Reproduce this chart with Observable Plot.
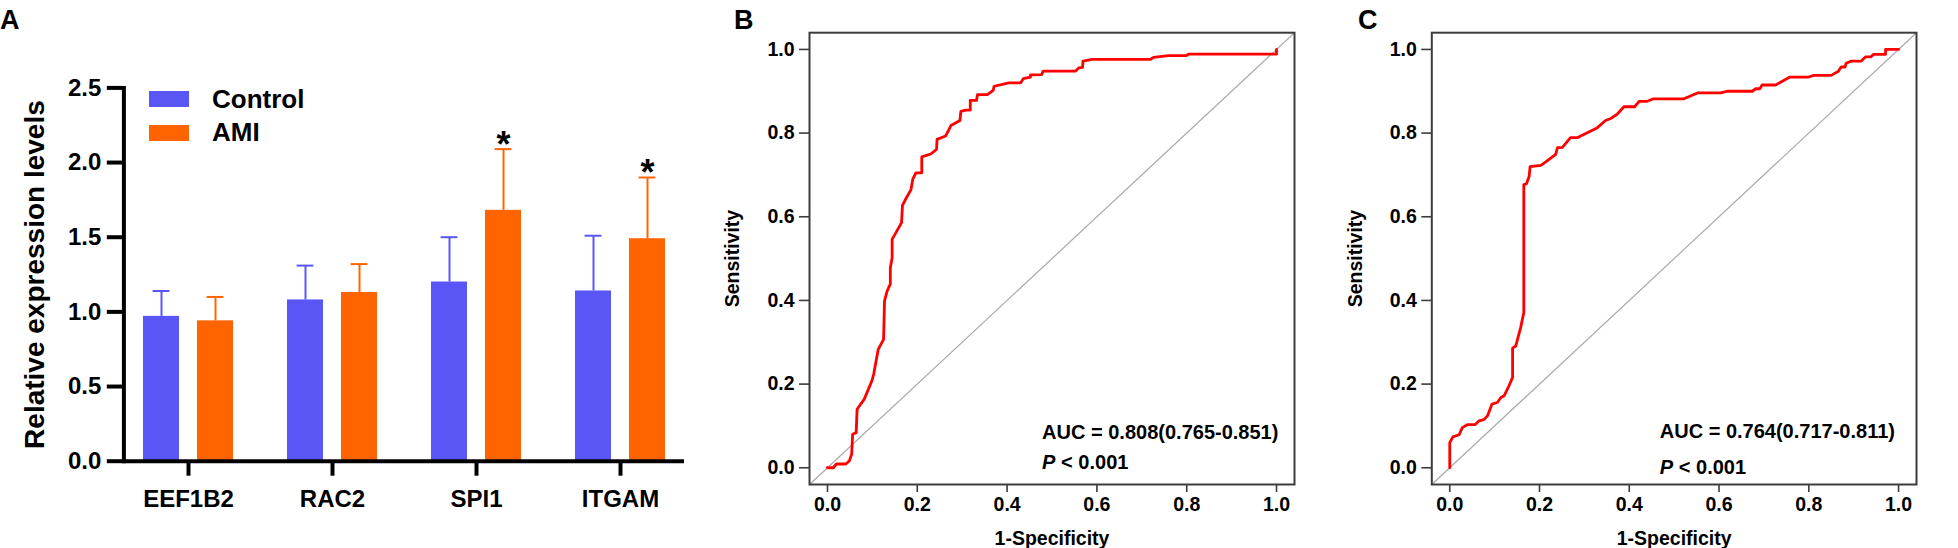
<!DOCTYPE html>
<html>
<head>
<meta charset="utf-8">
<script src="https://cdn.jsdelivr.net/npm/d3@7"></script>
<script src="https://cdn.jsdelivr.net/npm/@observablehq/plot@0.6"></script>
<style>
  body { margin: 0; background: #fff; }
  #fig { position: relative; width: 1958px; height: 548px; background: #fff; overflow: hidden;
         font-family: "Liberation Sans", Arial, Helvetica, sans-serif; }
  .panel { position: absolute; top: 0; }
  .panel svg { display: block; max-width: none !important; }
  .letter { position: absolute; font-weight: bold; font-size: 27px; line-height: 1; color: #000; }
  #legendA { position: absolute; left: 149px; top: 83px; }
  #legendA > div { font-family: "Liberation Sans", Arial, sans-serif !important; font-size: 26px !important;
                   font-weight: bold !important; color: #000 !important; margin: 0 !important; }
  #legendA div div { line-height: 32.4px; }
  #legendA svg { margin-right: 23px !important; }
</style>
</head>
<body>
<div id="fig"></div>
<script>
// ---------- Panel A data ----------
const genes = ["EEF1B2", "RAC2", "SPI1", "ITGAM"];
const groups = ["Control", "AMI"];
const controlMean = [0.97, 1.08, 1.20, 1.14];
const controlUpper = [1.14, 1.31, 1.50, 1.51];
const amiMean = [0.94, 1.13, 1.68, 1.49];
const amiUpper = [1.10, 1.32, 2.09, 1.90];
const starred = ["SPI1", "ITGAM"];
const yTicksA = [0, 0.5, 1.0, 1.5, 2.0, 2.5];

// ---------- Panel B ROC ----------
const rocBfpr = [0, 0.013, 0.020, 0.041, 0.049, 0.054, 0.056, 0.064, 0.066, 0.082,
  0.099, 0.103, 0.113, 0.125, 0.127, 0.133, 0.140, 0.140, 0.144, 0.144,
  0.165, 0.167, 0.173, 0.186, 0.190, 0.197, 0.210, 0.210, 0.230, 0.243,
  0.244, 0.263, 0.275, 0.295, 0.297, 0.308, 0.318, 0.318, 0.332, 0.334,
  0.356, 0.369, 0.371, 0.404, 0.430, 0.436, 0.452, 0.452, 0.477, 0.480,
  0.552, 0.560, 0.568, 0.569, 0.589, 0.719, 0.726, 0.759, 0.799, 0.804,
  1.0, 1.0];
const rocBtpr = [0, 0, 0.009, 0.009, 0.017, 0.033, 0.080, 0.084, 0.140, 0.164,
  0.208, 0.224, 0.283, 0.307, 0.399, 0.423, 0.439, 0.478, 0.502, 0.546,
  0.586, 0.627, 0.640, 0.665, 0.690, 0.705, 0.705, 0.743, 0.750, 0.761,
  0.785, 0.793, 0.818, 0.830, 0.852, 0.855, 0.855, 0.878, 0.878, 0.892,
  0.892, 0.902, 0.912, 0.920, 0.920, 0.930, 0.934, 0.939, 0.940, 0.948,
  0.948, 0.956, 0.957, 0.972, 0.976, 0.976, 0.981, 0.985, 0.985, 0.989,
  0.989, 1.0];
const aucB = "AUC = 0.808(0.765-0.851)";

// ---------- Panel C ROC ----------
const rocCfpr = [0, 0, 0.001, 0.007, 0.021, 0.028, 0.039, 0.056, 0.065, 0.076,
  0.084, 0.094, 0.106, 0.114, 0.121, 0.132, 0.140, 0.140, 0.147, 0.151,
  0.158, 0.165, 0.165, 0.171, 0.177, 0.179, 0.203, 0.214, 0.236, 0.240,
  0.251, 0.269, 0.284, 0.329, 0.347, 0.359, 0.373, 0.388, 0.412, 0.422,
  0.440, 0.454, 0.522, 0.552, 0.604, 0.618, 0.674, 0.682, 0.691, 0.696,
  0.726, 0.741, 0.758, 0.800, 0.811, 0.850, 0.866, 0.872, 0.881, 0.883,
  0.895, 0.917, 0.926, 0.938, 0.944, 0.971, 0.971, 1.0];
const rocCtpr = [0, 0.060, 0.062, 0.074, 0.079, 0.096, 0.103, 0.103, 0.112, 0.115,
  0.124, 0.152, 0.156, 0.168, 0.172, 0.196, 0.216, 0.286, 0.291, 0.307,
  0.335, 0.371, 0.677, 0.679, 0.697, 0.720, 0.723, 0.731, 0.749, 0.765,
  0.766, 0.789, 0.789, 0.813, 0.830, 0.835, 0.845, 0.863, 0.863, 0.876,
  0.876, 0.882, 0.882, 0.896, 0.896, 0.900, 0.900, 0.906, 0.906, 0.915,
  0.915, 0.924, 0.934, 0.934, 0.938, 0.938, 0.948, 0.958, 0.958, 0.967,
  0.972, 0.972, 0.982, 0.982, 0.988, 0.988, 1.0, 1.0];
const aucC = "AUC = 0.764(0.717-0.811)";

const rocTicks = [0, 0.2, 0.4, 0.6, 0.8, 1.0];
const pLabel = ["P", "< 0.001"];
const panelLetters = ["A", "B", "C"];

// ---------- styling ----------
const FONT = "'Liberation Sans', Arial, Helvetica, sans-serif";
const BLUE = "#5A56F6";
const ORANGE = "#FF6400";
const rocDomain = [-0.04, 1.04];
const OFF = 27; // half distance between paired bars (px)

const fig = document.getElementById("fig");
function place(node, left) {
  const wrap = document.createElement("div");
  wrap.className = "panel";
  wrap.style.left = left + "px";
  wrap.appendChild(node);
  fig.appendChild(wrap);
}

// ---------- Panel A ----------
const rowsA = genes.flatMap((gene, i) => [
  {gene, group: "Control", mean: controlMean[i], upper: controlUpper[i]},
  {gene, group: "AMI", mean: amiMean[i], upper: amiUpper[i]}
]);
const ctrl = rowsA.filter(d => d.group === "Control");
const ami = rowsA.filter(d => d.group === "AMI");
const stars = ami.filter(d => starred.includes(d.gene));

const plotA = Plot.plot({
  width: 700, height: 548,
  marginLeft: 123.4, marginRight: 16, marginTop: 87.4, marginBottom: 87.3,
  style: {fontFamily: FONT, color: "#000", background: "transparent", overflow: "visible"},
  x: {domain: genes, paddingInner: 0.5, paddingOuter: 0.19},
  y: {domain: [0, 2.5]},
  color: {domain: groups, range: [BLUE, ORANGE]},
  marks: [
    Plot.barY(ctrl, {x: "gene", y: "mean", fill: "group", dx: -OFF, insetLeft: 18, insetRight: 18}),
    Plot.barY(ami, {x: "gene", y: "mean", fill: "group", dx: OFF, insetLeft: 18, insetRight: 18}),
    Plot.ruleX(ctrl, {x: "gene", y1: "mean", y2: "upper", stroke: "group", strokeWidth: 2, dx: -OFF}),
    Plot.ruleX(ami, {x: "gene", y1: "mean", y2: "upper", stroke: "group", strokeWidth: 2, dx: OFF}),
    Plot.tickY(ctrl, {x: "gene", y: "upper", stroke: "group", strokeWidth: 2, dx: -OFF, insetLeft: 27.6, insetRight: 27.6}),
    Plot.tickY(ami, {x: "gene", y: "upper", stroke: "group", strokeWidth: 2, dx: OFF, insetLeft: 27.6, insetRight: 27.6}),
    Plot.text(stars, {x: "gene", y: "upper", text: () => "*", dx: OFF, dy: -4, fontSize: 36, fontWeight: "bold", lineAnchor: "middle", fill: "#000"}),
    Plot.axisX({tickSize: 15, tickPadding: 13.6, fontSize: 24, fontWeight: "bold", strokeWidth: 4, label: null}),
    Plot.axisY({ticks: yTicksA, tickFormat: ".1f", tickSize: 16.6, tickPadding: 6, fontSize: 24, fontWeight: "bold", strokeWidth: 4, label: null}),
    Plot.axisY({ticks: [], label: "Relative expression levels", labelAnchor: "center", labelOffset: 100, labelArrow: "none", fontSize: 28, fontWeight: "bold"}),
    Plot.ruleY([0], {strokeWidth: 4}),
    Plot.frame({anchor: "left", strokeWidth: 4})
  ]
});
place(plotA, 0);

const legWrap = document.createElement("div");
legWrap.id = "legendA";
legWrap.appendChild(Plot.legend({
  color: {domain: groups, range: [BLUE, ORANGE]},
  legend: "swatches", columns: 1, swatchWidth: 40, swatchHeight: 16
}));
fig.appendChild(legWrap);

// ---------- ROC panels ----------
function rocPanel({fpr, tpr, auc, ann, width, marginLeft, marginRight}) {
  const pts = fpr.map((x, i) => ({fpr: x, tpr: tpr[i]}));
  const textStyle = {fontSize: 20, fontWeight: "bold", textAnchor: "start", lineAnchor: "middle", fill: "#000"};
  return Plot.plot({
    width, height: 548, marginLeft, marginRight, marginTop: 32.2, marginBottom: 64,
    style: {fontFamily: FONT, color: "#000", background: "transparent", overflow: "visible"},
    x: {domain: rocDomain},
    y: {domain: rocDomain},
    marks: [
      Plot.link([rocDomain], {x1: d => d[0], y1: d => d[0], x2: d => d[1], y2: d => d[1], stroke: "#a9a9a9", strokeWidth: 1.2}),
      Plot.line(pts, {x: "fpr", y: "tpr", stroke: "#ff0000", strokeWidth: 2.8}),
      Plot.frame({stroke: "#3c3c3c", strokeWidth: 2}),
      Plot.axisX({ticks: rocTicks, tickFormat: ".1f", tickSize: 8, tickPadding: 5, fontSize: 19.5, fontWeight: "bold",
                  stroke: "#3c3c3c", strokeWidth: 1.6, label: "1-Specificity", labelAnchor: "center", labelOffset: 60, labelArrow: "none"}),
      Plot.axisY({ticks: rocTicks, tickFormat: ".1f", tickSize: 10, tickPadding: 5, fontSize: 19.5, fontWeight: "bold",
                  stroke: "#3c3c3c", strokeWidth: 1.6, label: "Sensitivity", labelAnchor: "center", labelOffset: 84, labelArrow: "none"}),
      Plot.text([auc], {x: ann.x, y: ann.y1, text: d => d, ...textStyle}),
      Plot.text([pLabel[0]], {x: ann.x, y: ann.y2, text: d => d, fontStyle: "italic", ...textStyle}),
      Plot.text([pLabel[1]], {x: ann.x, y: ann.y2, text: d => d, dx: 19, ...textStyle})
    ]
  });
}

place(rocPanel({fpr: rocBfpr, tpr: rocBtpr, auc: aucB, ann: {x: 0.478, y1: 0.084, y2: 0.012},
  width: 620, marginLeft: 109, marginRight: 26}), 700);
place(rocPanel({fpr: rocCfpr, tpr: rocCtpr, auc: aucC, ann: {x: 0.468, y1: 0.087, y2: 0.001},
  width: 628, marginLeft: 101.3, marginRight: 42}), 1330);

// ---------- panel letters ----------
[[panelLetters[0], 0], [panelLetters[1], 734], [panelLetters[2], 1358]].forEach(([t, left]) => {
  const d = document.createElement("div");
  d.className = "letter";
  d.textContent = t;
  d.style.left = left + "px";
  d.style.top = "7px";
  fig.appendChild(d);
});
</script>
</body>
</html>
